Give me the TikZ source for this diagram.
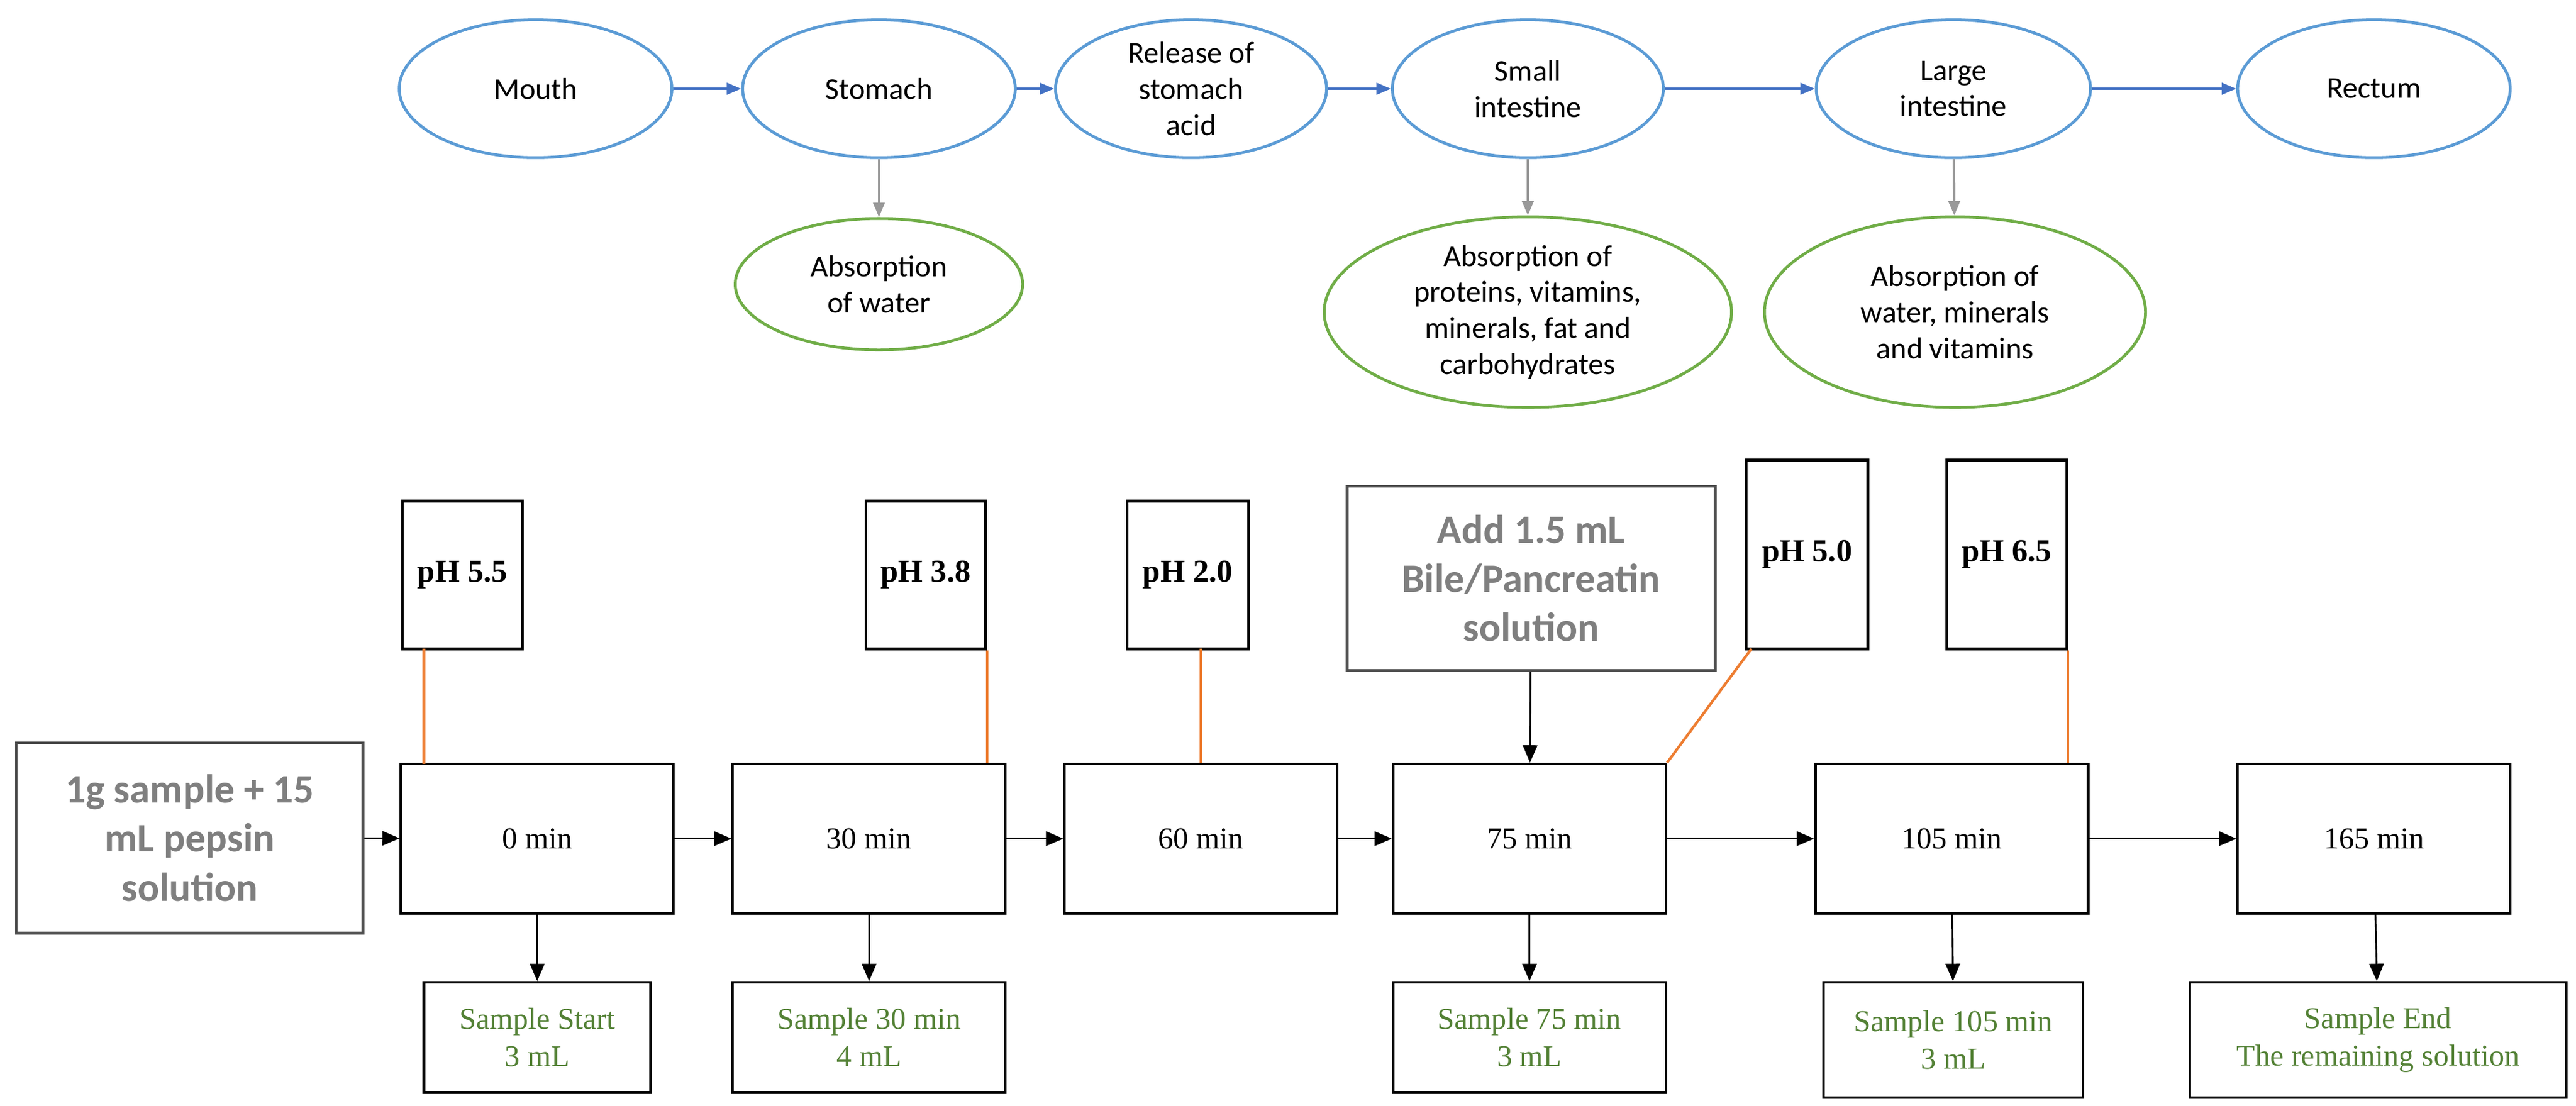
\documentclass[tikz,border=0pt]{standalone}
\usepackage{fontspec}
\setmainfont{Liberation Serif}
\newfontfamily\carl{Carlito}
\usetikzlibrary{shapes.geometric,arrows.meta}
\definecolor{eblue}{HTML}{5B9BD5}
\definecolor{egreen}{HTML}{70AD47}
\definecolor{aorng}{HTML}{ED7D31}
\definecolor{ablue}{HTML}{4472C4}
\definecolor{tgreen}{HTML}{538135}
\definecolor{tgray}{HTML}{7F7F7F}
\begin{document}
\begin{tikzpicture}[x=0.02cm,y=-0.02cm,
 org/.style={ellipse,draw=eblue,line width=1pt,font=\carl\fontsize{10.5}{12.5}\selectfont,align=center,inner sep=0pt},
 ab/.style={ellipse,draw=egreen,line width=1pt,font=\carl\fontsize{10.5}{12.5}\selectfont,align=center,inner sep=0pt},
 bx/.style={draw,line width=0.9pt,inner sep=0pt,align=center,font=\fontsize{10.5}{12.5}\selectfont},
 ph/.style={bx,font=\bfseries\fontsize{11}{13}\selectfont},
 sm/.style={bx,text=tgreen,font=\fontsize{10.5}{13}\selectfont},
 gb/.style={bx,draw=black!70,text=tgray,font=\carl\bfseries\fontsize{14}{17}\selectfont},
 ba/.style={-{Triangle[length=5pt,width=4pt]},ablue,line width=0.8pt},
 ga/.style={-{Triangle[length=5pt,width=4pt]},black!40,line width=0.8pt},
 ka/.style={-{Triangle[length=6pt,width=5pt]},black,line width=0.6pt},
 ol/.style={aorng,line width=0.9pt}]
\useasboundingbox (0,0) rectangle (1568,673);
% top ellipses
\node[org,minimum width=3.32cm,minimum height=1.68cm] (mo) at (326,54) {Mouth};
\node[org,minimum width=3.32cm,minimum height=1.68cm] (st) at (535,54) {Stomach};
\node[org,minimum width=3.3cm,minimum height=1.68cm] (re) at (725,54) {Release of\\stomach\\acid};
\node[org,minimum width=3.3cm,minimum height=1.68cm] (si) at (930,54) {Small\\intestine};
\node[org,minimum width=3.34cm,minimum height=1.68cm] (li) at (1189,54) {Large\\intestine};
\node[org,minimum width=3.32cm,minimum height=1.68cm] (rc) at (1445,54) {Rectum};
\draw[ba] (mo) -- (st); \draw[ba] (st) -- (re); \draw[ba] (re) -- (si);
\draw[ba] (si) -- (li); \draw[ba] (li) -- (rc);
\node[ab,minimum width=3.5cm,minimum height=1.6cm] (a1) at (535,173) {Absorption\\of water};
\node[ab,minimum width=4.96cm,minimum height=2.32cm] (a2) at (930,190) {Absorption of\\proteins, vitamins,\\minerals, fat and\\carbohydrates};
\node[ab,minimum width=4.64cm,minimum height=2.32cm] (a3) at (1190,190) {Absorption of\\water, minerals\\and vitamins};
\draw[ga] (st) -- (a1); \draw[ga] (si) -- (a2); \draw[ga] (li) -- (a3);
% main boxes
\node[gb,minimum width=4.22cm,minimum height=2.32cm] (in) at (115.5,510) {1g sample + 15\\mL pepsin\\solution};
\node[bx,minimum width=3.32cm,minimum height=1.82cm] (t0) at (327,510.5) {0 min};
\node[bx,minimum width=3.32cm,minimum height=1.82cm] (t30) at (529,510.5) {30 min};
\node[bx,minimum width=3.32cm,minimum height=1.82cm] (t60) at (731,510.5) {60 min};
\node[bx,minimum width=3.32cm,minimum height=1.82cm] (t75) at (931,510.5) {75 min};
\node[bx,minimum width=3.32cm,minimum height=1.82cm] (t105) at (1188,510.5) {105 min};
\node[bx,minimum width=3.32cm,minimum height=1.82cm] (t165) at (1445,510.5) {165 min};
\draw[ka] (in) -- (t0); \draw[ka] (t0) -- (t30); \draw[ka] (t30) -- (t60);
\draw[ka] (t60) -- (t75); \draw[ka] (t75) -- (t105); \draw[ka] (t105) -- (t165);
% pH boxes
\node[ph,minimum width=1.46cm,minimum height=1.8cm] (p1) at (281.5,350) {pH 5.5};
\node[ph,minimum width=1.46cm,minimum height=1.8cm] (p2) at (563.5,350) {pH 3.8};
\node[ph,minimum width=1.48cm,minimum height=1.8cm] (p3) at (723,350) {pH 2.0};
\node[ph,minimum width=1.48cm,minimum height=2.3cm] (p4) at (1100,337.5) {pH 5.0};
\node[ph,minimum width=1.46cm,minimum height=2.3cm] (p5) at (1221.5,337.5) {pH 6.5};
\node[gb,minimum width=4.48cm,minimum height=2.24cm] (ad) at (932,352) {Add 1.5 mL\\Bile/Pancreatin\\solution};
\draw[ol] (258,395) -- (258,465);
\draw[ol] (p2.south east) -- (t30.north -| p2.south east);
\draw[ol] (731,395) -- (t60.north);
\draw[ol] (1066,395) -- (t75.north east);
\draw[ol] (p5.south east) -- (t105.north -| p5.south east);
\draw[ka] (ad) -- (t75);
% samples
\node[sm,minimum width=2.76cm,minimum height=1.34cm] (s0) at (327,631.5) {Sample Start\\3 mL};
\node[sm,minimum width=3.32cm,minimum height=1.34cm] (s30) at (529,631.5) {Sample 30 min\\4 mL};
\node[sm,minimum width=3.32cm,minimum height=1.34cm] (s75) at (931,631.5) {Sample 75 min\\3 mL};
\node[sm,minimum width=3.16cm,minimum height=1.4cm] (s105) at (1189,633) {Sample 105 min\\3 mL};
\node[sm,minimum width=4.58cm,minimum height=1.4cm] (s165) at (1447.5,633) {Sample End\\The remaining solution};
\draw[ka] (t0) -- (s0); \draw[ka] (t30) -- (s30); \draw[ka] (t75) -- (s75);
\draw[ka] (t105) -- (s105); \draw[ka] (t165) -- (s165);
\end{tikzpicture}
\end{document}
